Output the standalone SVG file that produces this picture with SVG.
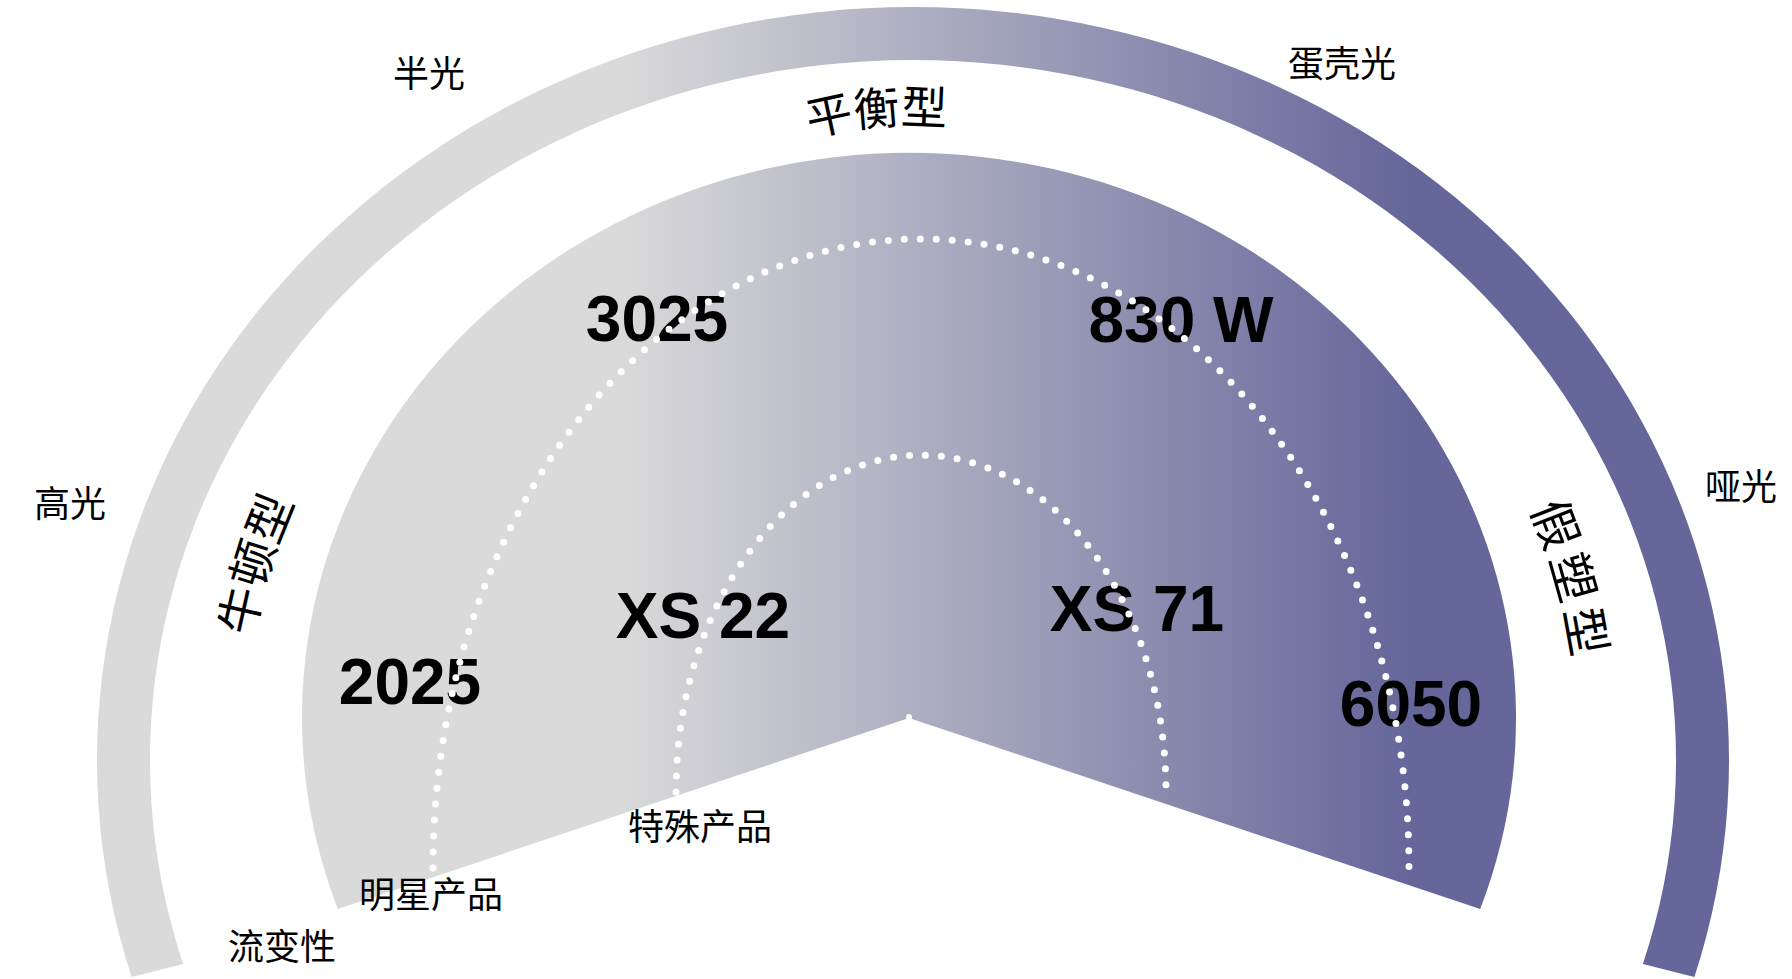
<svg xmlns="http://www.w3.org/2000/svg" width="1792" height="979" viewBox="0 0 1792 979">
<defs>
<linearGradient id="g" gradientUnits="userSpaceOnUse" x1="620" y1="0" x2="1410" y2="0">
<stop offset="0" stop-color="#DADADA"/>
<stop offset="1" stop-color="#65669A"/>
</linearGradient>
<path id="tp" d="M 243.5 739 A 667.5 615 0 0 1 1578.5 739"/>
<path id="tpTop" d="M 548 484 A 360 360 0 0 1 1268 484"/>
<style>
.lbl{font-family:"Noto Sans CJK SC","Noto Sans",sans-serif;font-size:36px;fill:#000;text-anchor:middle}
.cat{font-family:"Noto Sans CJK SC","Noto Sans",sans-serif;font-size:46px;fill:#000;text-anchor:middle}
.num{font-family:"Liberation Sans",Arial,sans-serif;font-weight:bold;font-size:64px;fill:#000;text-anchor:middle}
.dots{fill:none;stroke:#fff;stroke-width:7;stroke-linecap:round;stroke-dasharray:0 16}
</style>
</defs>
<g id="outer-ring">
<path d="M 131.6 977 A 816 753 0 1 1 1694.4 977 L 1642.9 964 A 763 700 0 1 0 183.1 964 Z" fill="url(#g)"/>
</g>
<g id="sector">
<path d="M 337.8 909 A 607 565 0 1 1 1480.2 909 L 909 718 Z" fill="url(#g)"/>
<circle cx="909" cy="717" r="3" fill="#fff"/>
</g>
<g id="category-labels">
<text class="cat" style="font-size:47px"><textPath href="#tp" startOffset="173">牛顿型</textPath></text>
<text class="cat"><textPath href="#tpTop" startOffset="535">平衡型</textPath></text>
<text class="cat" style="font-size:48px;letter-spacing:6px"><textPath href="#tp" startOffset="1859">假塑型</textPath></text>
</g>
<g id="gloss-labels">
<text class="lbl" x="70" y="517">高光</text>
<text class="lbl" x="429" y="87">半光</text>
<text class="lbl" x="1342" y="77">蛋壳光</text>
<text class="lbl" x="1741" y="500">哑光</text>
<text class="lbl" x="282" y="960">流变性</text>
</g>
<g id="products">
<text class="num" x="657" y="341">3025</text>
<text class="num" x="1181" y="342">830 W</text>
<text class="num" x="703" y="638">XS 22</text>
<text class="num" x="1137" y="631">XS 71</text>
<text class="num" x="410" y="704">2025</text>
<text class="num" x="1411" y="726">6050</text>
</g>
<g id="connectors">
<path class="dots" d="M 433 868 A 488 629 0 0 1 1409 868"/>
<path class="dots" d="M 676 792 A 245 337 0 0 1 1166 792"/>
</g>
<g id="group-labels">
<text class="lbl" x="431" y="908">明星产品</text>
<text class="lbl" x="700" y="840">特殊产品</text>
</g>
</svg>
